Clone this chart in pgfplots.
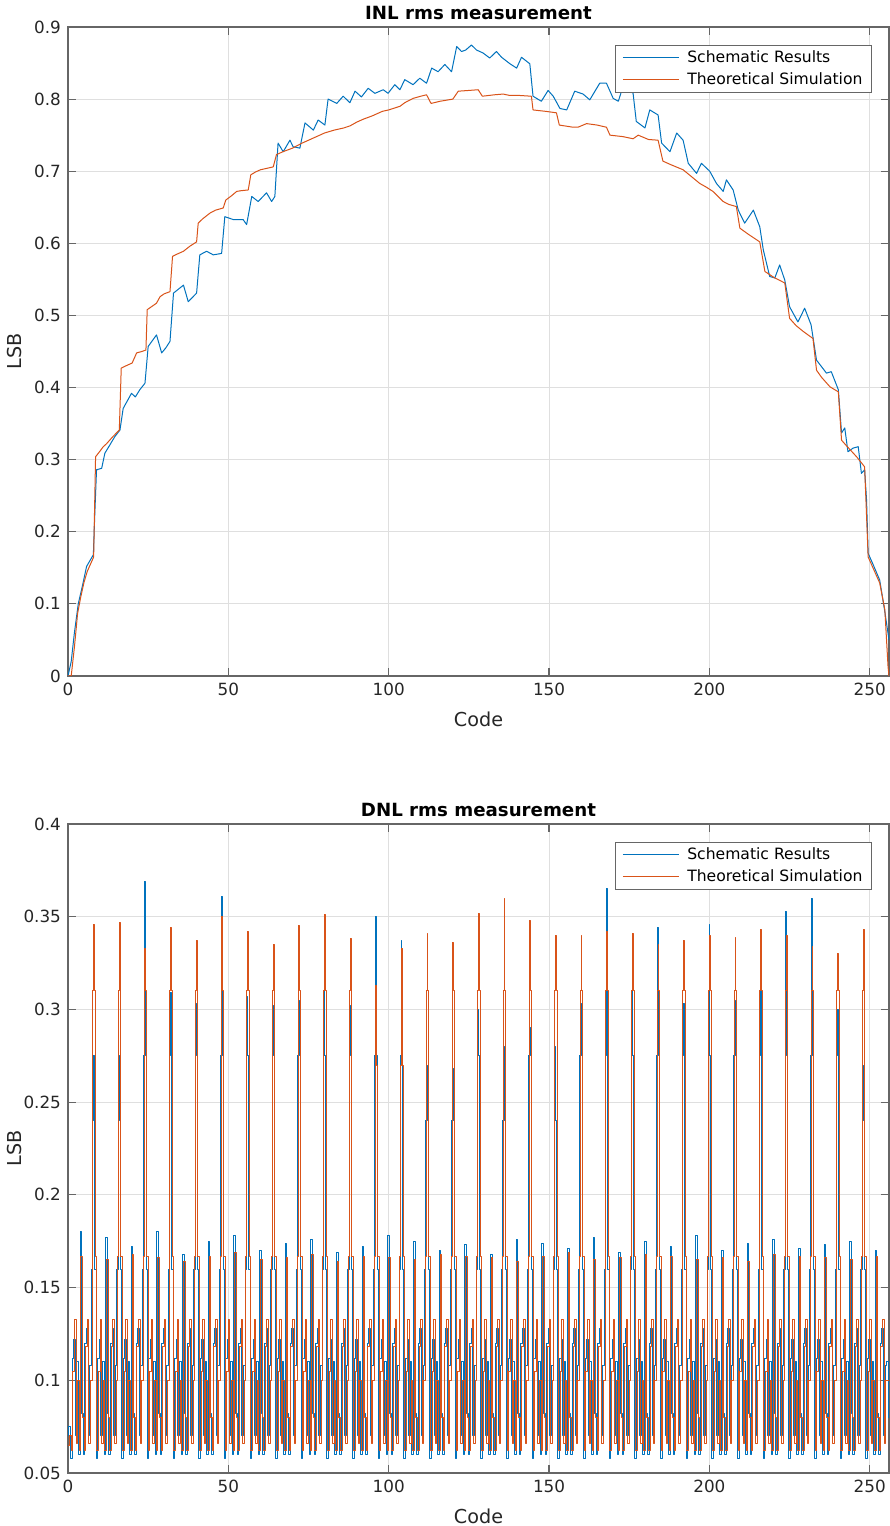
\documentclass[border=0pt]{standalone}
\usepackage{fontspec}
\setmainfont{DejaVu Sans}
\usepackage{pgfplots}
\pgfplotsset{compat=1.18}

\definecolor{mblue}{RGB}{0,114,189}
\definecolor{morange}{RGB}{217,83,25}
\definecolor{mgrid}{RGB}{223,223,223}

\pgfplotsset{
  mstyle/.style={
    scale only axis, width=410.5pt, height=324.5pt,
    xmin=0, xmax=256, xtick={0,50,100,150,200,250},
    axis line style={black!60, line width=0.6pt},
    tick align=inside, major tick length=4pt,
    tick style={black!60, line width=0.6pt},
    grid=major, major grid style={mgrid, line width=0.5pt},
    tick label style={font=\fontsize{8.4}{10}\selectfont, text=black!85},
    scaled ticks=false,
    /pgf/number format/fixed,
    /pgf/number format/assume math mode=true,
    xlabel={Code}, ylabel={LSB},
    label style={font=\fontsize{9.6}{11}\selectfont, text=black!85},
    xlabel style={at={(axis description cs:0.5,-0.0663)}, anchor=center},
    ylabel style={at={(axis description cs:-0.0646,0.5)}, anchor=center},
    title style={font=\bfseries\fontsize{9.1}{11}\selectfont, at={(axis description cs:0.5,1)}, anchor=south, yshift=-6pt},
    legend style={at={(axis description cs:1,1)}, anchor=north east, xshift=-8.5pt, yshift=-9pt,
      draw=black!60, line width=0.5pt, fill=white, font=\fontsize{7.8}{9}\selectfont,
      inner xsep=3.5pt, inner ysep=1.5pt, column sep=3pt, row sep=1.5pt,
      cells={anchor=west}, nodes={inner sep=1pt}},
    legend image code/.code={\draw[#1, line width=0.5pt] (0pt,0pt) -- (28pt,0pt);},
    legend cell align=left,
  },
  every axis plot/.append style={line width=0.5pt, line join=round},
}

\begin{document}
\begin{tikzpicture}
\path[use as bounding box] (-34pt,-26.5pt) rectangle (410.5pt,736.5pt);

% INL
\begin{axis}[mstyle, at={(0pt,398.5pt)}, anchor=south west,
  title={INL rms measurement},
  ymin=0, ymax=0.9, ytick={0,0.1,0.2,0.3,0.4,0.5,0.6,0.7,0.8,0.9}]
\addplot[color=mblue] coordinates {
(0,0)(1,0.02)(2,0.06)(3.2,0.1)(4.5,0.125)(5.8,0.152)(7.9,0.168)(8.4,0.23)(8.9,0.286)(10.5,0.288)(11.5,0.309)(13,0.32)(14.6,0.332)(16.2,0.341)
(17.2,0.371)(19.8,0.392)(21,0.387)(22.4,0.397)(24,0.406)(25,0.457)(27.6,0.473)(29.2,0.448)(30.5,0.455)(31.8,0.464)(32.9,0.531)(36,0.542)
(37.5,0.519)(40.1,0.531)(41.1,0.584)(43.2,0.589)(45.3,0.584)(47.9,0.586)(48.9,0.637)(51.5,0.633)(54.6,0.633)(55.7,0.626)(57.3,0.665)
(59.3,0.658)(61.9,0.670)(63.5,0.658)(64.5,0.665)(65.5,0.739)(67.1,0.727)(69.2,0.743)(70.2,0.734)(72.3,0.732)(73.9,0.767)(76.5,0.757)
(78,0.771)(80.1,0.764)(81.1,0.800)(83.8,0.794)(85.8,0.804)(87.9,0.795)(89.5,0.811)(91.5,0.803)(93.6,0.815)(95.7,0.808)(98.3,0.813)
(99.8,0.808)(101.9,0.820)(103.5,0.813)(105,0.827)(107.6,0.820)(109.7,0.829)(111.8,0.822)(113.4,0.843)(115.4,0.838)(117.5,0.848)
(119.6,0.838)(121.2,0.873)(122.7,0.866)(124,0.868)(125.8,0.875)(127.4,0.868)(129.4,0.864)(131.5,0.857)(133.6,0.866)(135.2,0.858)
(137.8,0.849)(139.9,0.843)(141.4,0.858)(144,0.849)(145,0.804)(147.6,0.797)(149.7,0.812)(151.3,0.804)(153.4,0.787)(155.5,0.785)
(158,0.811)(160.6,0.807)(162.7,0.799)(165.8,0.822)(167.9,0.822)(170,0.801)(171.6,0.797)(172.6,0.811)(174.5,0.815)(176.2,0.808)
(177.2,0.769)(179.9,0.760)(181.4,0.785)(184,0.778)(185.1,0.739)(187.7,0.727)(189.8,0.753)(191.8,0.743)(193.4,0.711)(196,0.697)
(197.5,0.711)(200.1,0.700)(202.2,0.683)(204.3,0.672)(205.3,0.688)(207.4,0.674)(209,0.646)(211,0.628)(213.7,0.646)(215.7,0.623)
(216.8,0.591)(218.8,0.554)(220.4,0.552)(221.9,0.570)(223.5,0.549)(225,0.512)(227.6,0.491)(229.7,0.510)(231.7,0.487)(233.4,0.438)
(236.5,0.420)(238,0.422)(240.2,0.397)(241.2,0.337)(242.2,0.344)(243.2,0.311)(244.8,0.316)(246.4,0.318)(247.4,0.281)(248.4,0.286)
(249,0.244)(249.5,0.170)(251,0.155)(253.1,0.133)(254.7,0.089)(256,0.05)};
\addlegendentry{Schematic Results}
\addplot[color=morange] coordinates {
(0,0)(1,0.0)(2,0.04)(3,0.087)(4,0.11)(5,0.13)(6,0.145)(7,0.155)(8,0.165)(8.6,0.304)(10,0.312)(11,0.318)(12,0.322)(14,0.332)(16,0.341)
(16.6,0.427)(18,0.43)(20,0.434)(21.4,0.448)(23,0.45)(24.3,0.452)(24.7,0.508)(26,0.512)(27.6,0.517)(28.7,0.526)(30,0.53)(31.8,0.533)
(32.6,0.582)(34,0.585)(36,0.589)(38,0.596)(40.1,0.602)(40.6,0.628)(42,0.634)(44.3,0.642)(46,0.646)(48.4,0.649)(49.2,0.660)(51,0.666)
(52.6,0.672)(54,0.673)(56.2,0.674)(57,0.695)(58.5,0.699)(60,0.702)(62,0.704)(64,0.706)(65,0.723)(67,0.727)(70,0.732)(73,0.739)
(76,0.745)(80,0.753)(83,0.757)(86,0.760)(88,0.763)(90,0.768)(92,0.772)(95,0.777)(98,0.783)(100,0.785)(103.5,0.790)(105,0.795)
(107.6,0.801)(110,0.804)(111.8,0.806)(113.2,0.794)(116,0.797)(120,0.800)(121.7,0.811)(125,0.812)(127.9,0.813)(129.2,0.804)(133,0.806)
(135.7,0.807)(137.8,0.805)(141,0.805)(144.5,0.804)(145,0.785)(149,0.783)(152.3,0.781)(153.2,0.764)(157.5,0.761)(159,0.761)(161.7,0.766)
(165,0.764)(167.9,0.761)(169,0.750)(173,0.748)(176.2,0.745)(177.8,0.750)(181,0.744)(184,0.743)(185.5,0.714)(188,0.709)(191.8,0.702)
(194,0.694)(197,0.683)(199,0.678)(201.1,0.672)(204.3,0.658)(206,0.654)(208.4,0.651)(209.5,0.621)(212,0.613)(215.7,0.602)(217.3,0.561)
(220,0.553)(223.5,0.545)(225,0.496)(227,0.486)(229.2,0.478)(232.3,0.468)(233.4,0.424)(235,0.414)(237.6,0.401)(240.2,0.394)(241.2,0.327)
(243,0.318)(245.9,0.304)(248.4,0.290)(249.5,0.165)(251,0.150)(253.1,0.129)(254.7,0.092)(255.7,0.013)(256,0)};
\addlegendentry{Theoretical Simulation}
\end{axis}

% DNL
\begin{axis}[mstyle, at={(0pt,0pt)}, anchor=south west,
  title={DNL rms measurement},
  ymin=0.05, ymax=0.4, ytick={0.05,0.1,0.15,0.2,0.25,0.3,0.35,0.4}]
\addplot[color=mblue, const plot mark mid] coordinates {
(0,0.070)(0.5,0.075)(1,0.058)(1.5,0.112)(2,0.122)(2.5,0.070)(3,0.110)(3.5,0.060)(4,0.180)(4.5,0.082)(5,0.060)(5.5,0.120)(6,0.128)(6.5,0.070)(7,0.108)(7.5,0.160)
(7.75,0.240)(8,0.275)(8.25,0.240)(8.5,0.160)(9,0.058)(9.5,0.112)(10,0.122)(10.5,0.070)(11,0.110)(11.5,0.060)(12,0.177)(12.5,0.082)(13,0.060)(13.5,0.120)(14,0.128)(14.5,0.070)(15,0.108)(15.5,0.160)
(15.75,0.240)(16,0.275)(16.25,0.240)(16.5,0.160)(17,0.058)(17.5,0.112)(18,0.122)(18.5,0.070)(19,0.110)(19.5,0.060)(20,0.172)(20.5,0.082)(21,0.060)(21.5,0.120)(22,0.128)(22.5,0.070)(23,0.108)(23.5,0.160)
(23.75,0.275)(24,0.369)(24.25,0.275)(24.5,0.160)(25,0.058)(25.5,0.112)(26,0.122)(26.5,0.070)(27,0.110)(27.5,0.060)(28,0.180)(28.5,0.082)(29,0.060)(29.5,0.120)(30,0.128)(30.5,0.070)(31,0.108)(31.5,0.160)
(31.75,0.275)(32,0.309)(32.25,0.275)(32.5,0.160)(33,0.058)(33.5,0.112)(34,0.122)(34.5,0.070)(35,0.110)(35.5,0.060)(36,0.168)(36.5,0.082)(37,0.060)(37.5,0.120)(38,0.128)(38.5,0.070)(39,0.108)(39.5,0.160)
(39.75,0.275)(40,0.303)(40.25,0.275)(40.5,0.160)(41,0.058)(41.5,0.112)(42,0.122)(42.5,0.070)(43,0.110)(43.5,0.060)(44,0.175)(44.5,0.082)(45,0.060)(45.5,0.120)(46,0.128)(46.5,0.070)(47,0.108)(47.5,0.160)
(47.75,0.275)(48,0.361)(48.25,0.275)(48.5,0.160)(49,0.058)(49.5,0.112)(50,0.122)(50.5,0.070)(51,0.110)(51.5,0.060)(52,0.178)(52.5,0.082)(53,0.060)(53.5,0.120)(54,0.128)(54.5,0.070)(55,0.108)(55.5,0.160)
(55.75,0.275)(56,0.307)(56.25,0.275)(56.5,0.160)(57,0.058)(57.5,0.112)(58,0.122)(58.5,0.070)(59,0.110)(59.5,0.060)(60,0.170)(60.5,0.082)(61,0.060)(61.5,0.120)(62,0.128)(62.5,0.070)(63,0.108)(63.5,0.160)
(63.75,0.275)(64,0.302)(64.25,0.275)(64.5,0.160)(65,0.058)(65.5,0.112)(66,0.122)(66.5,0.070)(67,0.110)(67.5,0.060)(68,0.174)(68.5,0.082)(69,0.060)(69.5,0.120)(70,0.128)(70.5,0.070)(71,0.108)(71.5,0.160)
(71.75,0.275)(72,0.305)(72.25,0.275)(72.5,0.160)(73,0.058)(73.5,0.112)(74,0.122)(74.5,0.070)(75,0.110)(75.5,0.060)(76,0.176)(76.5,0.082)(77,0.060)(77.5,0.120)(78,0.128)(78.5,0.070)(79,0.108)(79.5,0.160)
(79.75,0.275)(80,0.314)(80.25,0.275)(80.5,0.160)(81,0.058)(81.5,0.112)(82,0.122)(82.5,0.070)(83,0.110)(83.5,0.060)(84,0.169)(84.5,0.082)(85,0.060)(85.5,0.120)(86,0.128)(86.5,0.070)(87,0.108)(87.5,0.160)
(87.75,0.275)(88,0.302)(88.25,0.275)(88.5,0.160)(89,0.058)(89.5,0.112)(90,0.122)(90.5,0.070)(91,0.110)(91.5,0.060)(92,0.172)(92.5,0.082)(93,0.060)(93.5,0.120)(94,0.128)(94.5,0.070)(95,0.108)(95.5,0.160)
(95.75,0.275)(96,0.350)(96.25,0.275)(96.5,0.160)(97,0.058)(97.5,0.112)(98,0.122)(98.5,0.070)(99,0.110)(99.5,0.060)(100,0.178)(100.5,0.082)(101,0.060)(101.5,0.120)(102,0.128)(102.5,0.070)(103,0.108)(103.5,0.160)
(103.75,0.275)(104,0.337)(104.25,0.275)(104.5,0.160)(105,0.058)(105.5,0.112)(106,0.122)(106.5,0.070)(107,0.110)(107.5,0.060)(108,0.175)(108.5,0.082)(109,0.060)(109.5,0.120)(110,0.128)(110.5,0.070)(111,0.108)(111.5,0.160)
(111.75,0.240)(112,0.270)(112.25,0.240)(112.5,0.160)(113,0.058)(113.5,0.112)(114,0.122)(114.5,0.070)(115,0.110)(115.5,0.060)(116,0.170)(116.5,0.082)(117,0.060)(117.5,0.120)(118,0.128)(118.5,0.070)(119,0.108)(119.5,0.160)
(119.75,0.240)(120,0.268)(120.25,0.240)(120.5,0.160)(121,0.058)(121.5,0.112)(122,0.122)(122.5,0.070)(123,0.110)(123.5,0.060)(124,0.173)(124.5,0.082)(125,0.060)(125.5,0.120)(126,0.128)(126.5,0.070)(127,0.108)(127.5,0.160)
(127.75,0.275)(128,0.300)(128.25,0.275)(128.5,0.160)(129,0.058)(129.5,0.112)(130,0.122)(130.5,0.070)(131,0.110)(131.5,0.060)(132,0.168)(132.5,0.082)(133,0.060)(133.5,0.120)(134,0.128)(134.5,0.070)(135,0.108)(135.5,0.160)
(135.75,0.240)(136,0.280)(136.25,0.240)(136.5,0.160)(137,0.058)(137.5,0.112)(138,0.122)(138.5,0.070)(139,0.110)(139.5,0.060)(140,0.176)(140.5,0.082)(141,0.060)(141.5,0.120)(142,0.128)(142.5,0.070)(143,0.108)(143.5,0.160)
(143.75,0.275)(144,0.290)(144.25,0.275)(144.5,0.160)(145,0.058)(145.5,0.112)(146,0.122)(146.5,0.070)(147,0.110)(147.5,0.060)(148,0.174)(148.5,0.082)(149,0.060)(149.5,0.120)(150,0.128)(150.5,0.070)(151,0.108)(151.5,0.160)
(151.75,0.240)(152,0.280)(152.25,0.240)(152.5,0.160)(153,0.058)(153.5,0.112)(154,0.122)(154.5,0.070)(155,0.110)(155.5,0.060)(156,0.171)(156.5,0.082)(157,0.060)(157.5,0.120)(158,0.128)(158.5,0.070)(159,0.108)(159.5,0.160)
(159.75,0.275)(160,0.303)(160.25,0.275)(160.5,0.160)(161,0.058)(161.5,0.112)(162,0.122)(162.5,0.070)(163,0.110)(163.5,0.060)(164,0.177)(164.5,0.082)(165,0.060)(165.5,0.120)(166,0.128)(166.5,0.070)(167,0.108)(167.5,0.160)
(167.75,0.275)(168,0.365)(168.25,0.275)(168.5,0.160)(169,0.058)(169.5,0.112)(170,0.122)(170.5,0.070)(171,0.110)(171.5,0.060)(172,0.169)(172.5,0.082)(173,0.060)(173.5,0.120)(174,0.128)(174.5,0.070)(175,0.108)(175.5,0.160)
(175.75,0.275)(176,0.311)(176.25,0.275)(176.5,0.160)(177,0.058)(177.5,0.112)(178,0.122)(178.5,0.070)(179,0.110)(179.5,0.060)(180,0.175)(180.5,0.082)(181,0.060)(181.5,0.120)(182,0.128)(182.5,0.070)(183,0.108)(183.5,0.160)
(183.75,0.275)(184,0.344)(184.25,0.275)(184.5,0.160)(185,0.058)(185.5,0.112)(186,0.122)(186.5,0.070)(187,0.110)(187.5,0.060)(188,0.172)(188.5,0.082)(189,0.060)(189.5,0.120)(190,0.128)(190.5,0.070)(191,0.108)(191.5,0.160)
(191.75,0.275)(192,0.303)(192.25,0.275)(192.5,0.160)(193,0.058)(193.5,0.112)(194,0.122)(194.5,0.070)(195,0.110)(195.5,0.060)(196,0.178)(196.5,0.082)(197,0.060)(197.5,0.120)(198,0.128)(198.5,0.070)(199,0.108)(199.5,0.160)
(199.75,0.275)(200,0.346)(200.25,0.275)(200.5,0.160)(201,0.058)(201.5,0.112)(202,0.122)(202.5,0.070)(203,0.110)(203.5,0.060)(204,0.170)(204.5,0.082)(205,0.060)(205.5,0.120)(206,0.128)(206.5,0.070)(207,0.108)(207.5,0.160)
(207.75,0.275)(208,0.305)(208.25,0.275)(208.5,0.160)(209,0.058)(209.5,0.112)(210,0.122)(210.5,0.070)(211,0.110)(211.5,0.060)(212,0.174)(212.5,0.082)(213,0.060)(213.5,0.120)(214,0.128)(214.5,0.070)(215,0.108)(215.5,0.160)
(215.75,0.275)(216,0.315)(216.25,0.275)(216.5,0.160)(217,0.058)(217.5,0.112)(218,0.122)(218.5,0.070)(219,0.110)(219.5,0.060)(220,0.176)(220.5,0.082)(221,0.060)(221.5,0.120)(222,0.128)(222.5,0.070)(223,0.108)(223.5,0.160)
(223.75,0.275)(224,0.353)(224.25,0.275)(224.5,0.160)(225,0.058)(225.5,0.112)(226,0.122)(226.5,0.070)(227,0.110)(227.5,0.060)(228,0.171)(228.5,0.082)(229,0.060)(229.5,0.120)(230,0.128)(230.5,0.070)(231,0.108)(231.5,0.160)
(231.75,0.275)(232,0.360)(232.25,0.275)(232.5,0.160)(233,0.058)(233.5,0.112)(234,0.122)(234.5,0.070)(235,0.110)(235.5,0.060)(236,0.173)(236.5,0.082)(237,0.060)(237.5,0.120)(238,0.128)(238.5,0.070)(239,0.108)(239.5,0.160)
(239.75,0.275)(240,0.300)(240.25,0.275)(240.5,0.160)(241,0.058)(241.5,0.112)(242,0.122)(242.5,0.070)(243,0.110)(243.5,0.060)(244,0.175)(244.5,0.082)(245,0.060)(245.5,0.120)(246,0.128)(246.5,0.070)(247,0.108)(247.5,0.160)
(247.75,0.240)(248,0.270)(248.25,0.240)(248.5,0.160)(249,0.058)(249.5,0.112)(250,0.122)(250.5,0.070)(251,0.110)(251.5,0.060)(252,0.170)(252.5,0.082)(253,0.060)(253.5,0.120)(254,0.128)(254.5,0.070)(255,0.108)(255.5,0.110)
(256,0.080)};
\addlegendentry{Schematic Results}
\addplot[color=morange, const plot] coordinates {
(0,0.065)(0.5,0.070)(1,0.062)(1.5,0.105)(2,0.133)(2.5,0.066)(3,0.100)(3.5,0.062)(4,0.167)(4.5,0.080)(5,0.062)(5.5,0.118)(6,0.133)(6.5,0.066)(7,0.100)(7.5,0.167)
(7.75,0.310)(8,0.346)(8.25,0.310)(8.5,0.167)(9,0.062)(9.5,0.105)(10,0.133)(10.5,0.066)(11,0.100)(11.5,0.062)(12,0.165)(12.5,0.080)(13,0.062)(13.5,0.118)(14,0.133)(14.5,0.066)(15,0.100)(15.5,0.167)
(15.75,0.310)(16,0.347)(16.25,0.310)(16.5,0.167)(17,0.062)(17.5,0.105)(18,0.133)(18.5,0.066)(19,0.100)(19.5,0.062)(20,0.168)(20.5,0.080)(21,0.062)(21.5,0.118)(22,0.133)(22.5,0.066)(23,0.100)(23.5,0.167)
(23.75,0.310)(24,0.333)(24.25,0.310)(24.5,0.167)(25,0.062)(25.5,0.105)(26,0.133)(26.5,0.066)(27,0.100)(27.5,0.062)(28,0.166)(28.5,0.080)(29,0.062)(29.5,0.118)(30,0.133)(30.5,0.066)(31,0.100)(31.5,0.167)
(31.75,0.310)(32,0.344)(32.25,0.310)(32.5,0.167)(33,0.062)(33.5,0.105)(34,0.133)(34.5,0.066)(35,0.100)(35.5,0.062)(36,0.164)(36.5,0.080)(37,0.062)(37.5,0.118)(38,0.133)(38.5,0.066)(39,0.100)(39.5,0.167)
(39.75,0.310)(40,0.337)(40.25,0.310)(40.5,0.167)(41,0.062)(41.5,0.105)(42,0.133)(42.5,0.066)(43,0.100)(43.5,0.062)(44,0.167)(44.5,0.080)(45,0.062)(45.5,0.118)(46,0.133)(46.5,0.066)(47,0.100)(47.5,0.167)
(47.75,0.310)(48,0.350)(48.25,0.310)(48.5,0.167)(49,0.062)(49.5,0.105)(50,0.133)(50.5,0.066)(51,0.100)(51.5,0.062)(52,0.169)(52.5,0.080)(53,0.062)(53.5,0.118)(54,0.133)(54.5,0.066)(55,0.100)(55.5,0.167)
(55.75,0.310)(56,0.342)(56.25,0.310)(56.5,0.167)(57,0.062)(57.5,0.105)(58,0.133)(58.5,0.066)(59,0.100)(59.5,0.062)(60,0.165)(60.5,0.080)(61,0.062)(61.5,0.118)(62,0.133)(62.5,0.066)(63,0.100)(63.5,0.167)
(63.75,0.310)(64,0.335)(64.25,0.310)(64.5,0.167)(65,0.062)(65.5,0.105)(66,0.133)(66.5,0.066)(67,0.100)(67.5,0.062)(68,0.166)(68.5,0.080)(69,0.062)(69.5,0.118)(70,0.133)(70.5,0.066)(71,0.100)(71.5,0.167)
(71.75,0.310)(72,0.345)(72.25,0.310)(72.5,0.167)(73,0.062)(73.5,0.105)(74,0.133)(74.5,0.066)(75,0.100)(75.5,0.062)(76,0.168)(76.5,0.080)(77,0.062)(77.5,0.118)(78,0.133)(78.5,0.066)(79,0.100)(79.5,0.167)
(79.75,0.310)(80,0.351)(80.25,0.310)(80.5,0.167)(81,0.062)(81.5,0.105)(82,0.133)(82.5,0.066)(83,0.100)(83.5,0.062)(84,0.164)(84.5,0.080)(85,0.062)(85.5,0.118)(86,0.133)(86.5,0.066)(87,0.100)(87.5,0.167)
(87.75,0.310)(88,0.338)(88.25,0.310)(88.5,0.167)(89,0.062)(89.5,0.105)(90,0.133)(90.5,0.066)(91,0.100)(91.5,0.062)(92,0.167)(92.5,0.080)(93,0.062)(93.5,0.118)(94,0.133)(94.5,0.066)(95,0.100)(95.5,0.167)
(95.75,0.270)(96,0.313)(96.25,0.270)(96.5,0.167)(97,0.062)(97.5,0.105)(98,0.133)(98.5,0.066)(99,0.100)(99.5,0.062)(100,0.166)(100.5,0.080)(101,0.062)(101.5,0.118)(102,0.133)(102.5,0.066)(103,0.100)(103.5,0.167)
(103.75,0.270)(104,0.333)(104.25,0.270)(104.5,0.167)(105,0.062)(105.5,0.105)(106,0.133)(106.5,0.066)(107,0.100)(107.5,0.062)(108,0.165)(108.5,0.080)(109,0.062)(109.5,0.118)(110,0.133)(110.5,0.066)(111,0.100)(111.5,0.167)
(111.75,0.310)(112,0.341)(112.25,0.310)(112.5,0.167)(113,0.062)(113.5,0.105)(114,0.133)(114.5,0.066)(115,0.100)(115.5,0.062)(116,0.168)(116.5,0.080)(117,0.062)(117.5,0.118)(118,0.133)(118.5,0.066)(119,0.100)(119.5,0.167)
(119.75,0.310)(120,0.336)(120.25,0.310)(120.5,0.167)(121,0.062)(121.5,0.105)(122,0.133)(122.5,0.066)(123,0.100)(123.5,0.062)(124,0.167)(124.5,0.080)(125,0.062)(125.5,0.118)(126,0.133)(126.5,0.066)(127,0.100)(127.5,0.167)
(127.75,0.310)(128,0.352)(128.25,0.310)(128.5,0.167)(129,0.062)(129.5,0.105)(130,0.133)(130.5,0.066)(131,0.100)(131.5,0.062)(132,0.166)(132.5,0.080)(133,0.062)(133.5,0.118)(134,0.133)(134.5,0.066)(135,0.100)(135.5,0.167)
(135.75,0.310)(136,0.360)(136.25,0.310)(136.5,0.167)(137,0.062)(137.5,0.105)(138,0.133)(138.5,0.066)(139,0.100)(139.5,0.062)(140,0.164)(140.5,0.080)(141,0.062)(141.5,0.118)(142,0.133)(142.5,0.066)(143,0.100)(143.5,0.167)
(143.75,0.310)(144,0.348)(144.25,0.310)(144.5,0.167)(145,0.062)(145.5,0.105)(146,0.133)(146.5,0.066)(147,0.100)(147.5,0.062)(148,0.167)(148.5,0.080)(149,0.062)(149.5,0.118)(150,0.133)(150.5,0.066)(151,0.100)(151.5,0.167)
(151.75,0.310)(152,0.340)(152.25,0.310)(152.5,0.167)(153,0.062)(153.5,0.105)(154,0.133)(154.5,0.066)(155,0.100)(155.5,0.062)(156,0.169)(156.5,0.080)(157,0.062)(157.5,0.118)(158,0.133)(158.5,0.066)(159,0.100)(159.5,0.167)
(159.75,0.310)(160,0.340)(160.25,0.310)(160.5,0.167)(161,0.062)(161.5,0.105)(162,0.133)(162.5,0.066)(163,0.100)(163.5,0.062)(164,0.165)(164.5,0.080)(165,0.062)(165.5,0.118)(166,0.133)(166.5,0.066)(167,0.100)(167.5,0.167)
(167.75,0.310)(168,0.342)(168.25,0.310)(168.5,0.167)(169,0.062)(169.5,0.105)(170,0.133)(170.5,0.066)(171,0.100)(171.5,0.062)(172,0.166)(172.5,0.080)(173,0.062)(173.5,0.118)(174,0.133)(174.5,0.066)(175,0.100)(175.5,0.167)
(175.75,0.310)(176,0.341)(176.25,0.310)(176.5,0.167)(177,0.062)(177.5,0.105)(178,0.133)(178.5,0.066)(179,0.100)(179.5,0.062)(180,0.168)(180.5,0.080)(181,0.062)(181.5,0.118)(182,0.133)(182.5,0.066)(183,0.100)(183.5,0.167)
(183.75,0.310)(184,0.335)(184.25,0.310)(184.5,0.167)(185,0.062)(185.5,0.105)(186,0.133)(186.5,0.066)(187,0.100)(187.5,0.062)(188,0.167)(188.5,0.080)(189,0.062)(189.5,0.118)(190,0.133)(190.5,0.066)(191,0.100)(191.5,0.167)
(191.75,0.310)(192,0.337)(192.25,0.310)(192.5,0.167)(193,0.062)(193.5,0.105)(194,0.133)(194.5,0.066)(195,0.100)(195.5,0.062)(196,0.165)(196.5,0.080)(197,0.062)(197.5,0.118)(198,0.133)(198.5,0.066)(199,0.100)(199.5,0.167)
(199.75,0.310)(200,0.340)(200.25,0.310)(200.5,0.167)(201,0.062)(201.5,0.105)(202,0.133)(202.5,0.066)(203,0.100)(203.5,0.062)(204,0.166)(204.5,0.080)(205,0.062)(205.5,0.118)(206,0.133)(206.5,0.066)(207,0.100)(207.5,0.167)
(207.75,0.310)(208,0.339)(208.25,0.310)(208.5,0.167)(209,0.062)(209.5,0.105)(210,0.133)(210.5,0.066)(211,0.100)(211.5,0.062)(212,0.164)(212.5,0.080)(213,0.062)(213.5,0.118)(214,0.133)(214.5,0.066)(215,0.100)(215.5,0.167)
(215.75,0.310)(216,0.343)(216.25,0.310)(216.5,0.167)(217,0.062)(217.5,0.105)(218,0.133)(218.5,0.066)(219,0.100)(219.5,0.062)(220,0.168)(220.5,0.080)(221,0.062)(221.5,0.118)(222,0.133)(222.5,0.066)(223,0.100)(223.5,0.167)
(223.75,0.310)(224,0.340)(224.25,0.310)(224.5,0.167)(225,0.062)(225.5,0.105)(226,0.133)(226.5,0.066)(227,0.100)(227.5,0.062)(228,0.167)(228.5,0.080)(229,0.062)(229.5,0.118)(230,0.133)(230.5,0.066)(231,0.100)(231.5,0.167)
(231.75,0.310)(232,0.334)(232.25,0.310)(232.5,0.167)(233,0.062)(233.5,0.105)(234,0.133)(234.5,0.066)(235,0.100)(235.5,0.062)(236,0.166)(236.5,0.080)(237,0.062)(237.5,0.118)(238,0.133)(238.5,0.066)(239,0.100)(239.5,0.167)
(239.75,0.310)(240,0.330)(240.25,0.310)(240.5,0.167)(241,0.062)(241.5,0.105)(242,0.133)(242.5,0.066)(243,0.100)(243.5,0.062)(244,0.165)(244.5,0.080)(245,0.062)(245.5,0.118)(246,0.133)(246.5,0.066)(247,0.100)(247.5,0.167)
(247.75,0.310)(248,0.343)(248.25,0.310)(248.5,0.167)(249,0.062)(249.5,0.105)(250,0.133)(250.5,0.066)(251,0.100)(251.5,0.062)(252,0.167)(252.5,0.080)(253,0.062)(253.5,0.118)(254,0.133)(254.5,0.066)(255,0.100)(255.5,0.100)
(256,0.100)};
\addlegendentry{Theoretical Simulation}
\end{axis}
\end{tikzpicture}
\end{document}
